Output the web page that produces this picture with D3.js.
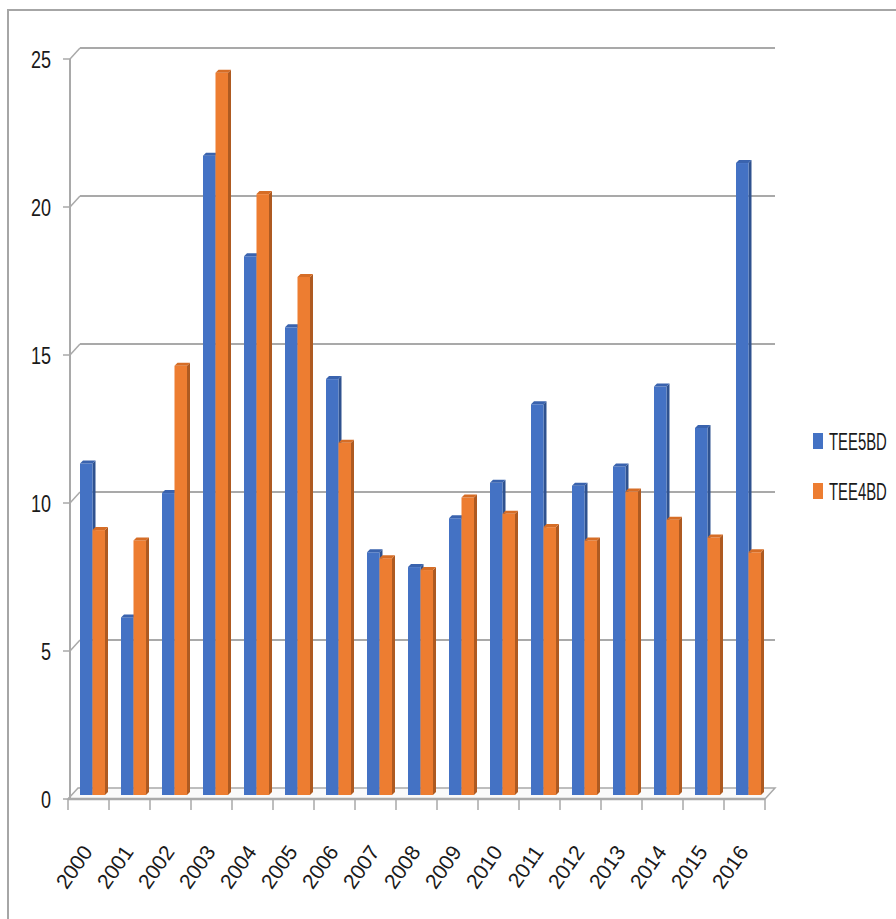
<!DOCTYPE html>
<html>
<head>
<meta charset="utf-8">
<script src="https://cdn.jsdelivr.net/npm/d3@7"></script>
<style>
  html, body { margin: 0; padding: 0; background: #fff; }
  svg { display: block; }
  text { font-family: "Liberation Sans", Arial, sans-serif; fill: #1a1a1a; }
</style>
</head>
<body>
<svg id="chart" width="896" height="919"></svg>
<script>
// ---- data ----
const years = ["2000","2001","2002","2003","2004","2005","2006","2007","2008","2009","2010","2011","2012","2013","2014","2015","2016"];
const seriesNames = ["TEE5BD", "TEE4BD"];
const tee5bd = [11.2, 6.0, 10.2, 21.6, 18.2, 15.8, 14.05, 8.2, 7.7, 9.35, 10.55, 13.2, 10.45, 11.1, 13.8, 12.4, 21.35];
const tee4bd = [8.95, 8.6, 14.5, 24.4, 20.3, 17.5, 11.9, 8.0, 7.6, 10.05, 9.5, 9.05, 8.6, 10.25, 9.3, 8.7, 8.2];
const yTicks = [0, 5, 10, 15, 20, 25];

const colors = { face: ["#4472C4", "#ED7D31"], side: ["#2F528F", "#AE5A21"], top: ["#3A63AE", "#D66D26"] };

// ---- layout ----
const svg = d3.select("#chart");
const depthX = 10, depthY = -11;      // full depth offset of the 3D box
const barDX = 4, barDY = -4;          // bars' front face offset
const sideW = 3, topH = 3;            // bar depth faces

const x = d3.scaleBand().domain(years).range([68, 765]).paddingInner(0).paddingOuter(0);
const groupW = 25;
const xs = d3.scaleBand().domain(seriesNames).range([0, groupW]).padding(0);
const yF = d3.scaleLinear().domain([0, 25]).range([799, 59]);   // front plane
const yB = v => yF(v) + depthY;                                  // back wall

// outer frame
svg.append("rect").attr("x", 8).attr("y", 10).attr("width", 900).attr("height", 920)
  .attr("fill", "none").attr("stroke", "#a6a6a6").attr("stroke-width", 2);

// back wall gridlines & side connectors
const xL = x.range()[0], xR = x.range()[1];
const axisX = 70;
yTicks.forEach(v => {
  if (v > 0) {
    svg.append("line").attr("x1", axisX + depthX).attr("x2", xR + depthX)
      .attr("y1", yB(v)).attr("y2", yB(v)).attr("stroke", "#a9a9a9").attr("stroke-width", 2);
  }
  svg.append("line").attr("x1", axisX).attr("y1", yF(v)).attr("x2", axisX + depthX).attr("y2", yB(v))
    .attr("stroke", "#a9a9a9").attr("stroke-width", 1.5);
  svg.append("line").attr("x1", axisX - 7).attr("x2", axisX).attr("y1", yF(v)).attr("y2", yF(v))
    .attr("stroke", "#a9a9a9").attr("stroke-width", 1.5);
  svg.append("text").attr("transform", `translate(51,${yF(v) + 9}) scale(0.75,1)`)
    .attr("text-anchor", "end").attr("font-size", 24).text(v);
});

// floor
svg.append("path")
  .attr("d", `M${xL},${yF(0)} L${xL + depthX},${yB(0)} L${xR + depthX},${yB(0)} L${xR},${yF(0)} Z`)
  .attr("fill", "#fafafa").attr("stroke", "#a9a9a9").attr("stroke-width", 1.5);
svg.append("line").attr("x1", xL).attr("x2", xR).attr("y1", yF(0)).attr("y2", yF(0))
  .attr("stroke", "#a9a9a9").attr("stroke-width", 2.5);

// vertical axis
svg.append("line").attr("x1", axisX).attr("x2", axisX).attr("y1", yF(25)).attr("y2", yF(0))
  .attr("stroke", "#a9a9a9").attr("stroke-width", 2);

// category ticks
years.concat(["end"]).forEach((yr, i) => {
  const tx = i < years.length ? x(yr) : xR;
  svg.append("line").attr("x1", tx).attr("x2", tx).attr("y1", yF(0)).attr("y2", yF(0) + 11)
    .attr("stroke", "#a9a9a9").attr("stroke-width", 1.5);
});

// bars
const seriesVals = [tee5bd, tee4bd];
const bars = svg.append("g");
years.forEach((yr, i) => {
  const gx = x(yr) + (x.bandwidth() - groupW) / 2 + barDX;
  seriesNames.forEach((s, si) => {
    const v = seriesVals[si][i];
    const x0 = gx + xs(s), x1 = x0 + xs.bandwidth();
    const y0 = yF(0) + barDY, yt = yF(v) + barDY;
    // side face
    bars.append("path")
      .attr("d", `M${x1},${yt} L${x1 + sideW},${yt - topH} L${x1 + sideW},${y0 - topH} L${x1},${y0} Z`)
      .attr("fill", colors.side[si]);
    // front face
    bars.append("rect").attr("x", x0).attr("y", yt).attr("width", x1 - x0).attr("height", y0 - yt)
      .attr("fill", colors.face[si]);
    // top face
    bars.append("path")
      .attr("d", `M${x0},${yt} L${x0 + sideW},${yt - topH} L${x1 + sideW},${yt - topH} L${x1},${yt} Z`)
      .attr("fill", colors.top[si]);
  });
});

// x labels
years.forEach(yr => {
  const cx = x(yr) + x.bandwidth() / 2;
  svg.append("text").attr("transform", `translate(${cx + 5},${852}) rotate(-55)`)
    .attr("text-anchor", "end").attr("font-size", 21).text(yr);
});

// legend
seriesNames.forEach((s, si) => {
  const ly = 450 + si * 50;
  svg.append("rect").attr("x", 813).attr("y", ly - 17).attr("width", 10).attr("height", 16)
    .attr("fill", colors.face[si]);
  svg.append("text").attr("transform", `translate(829,${ly}) scale(0.62,1)`)
    .attr("font-size", 24).text(s);
});
</script>
</body>
</html>
